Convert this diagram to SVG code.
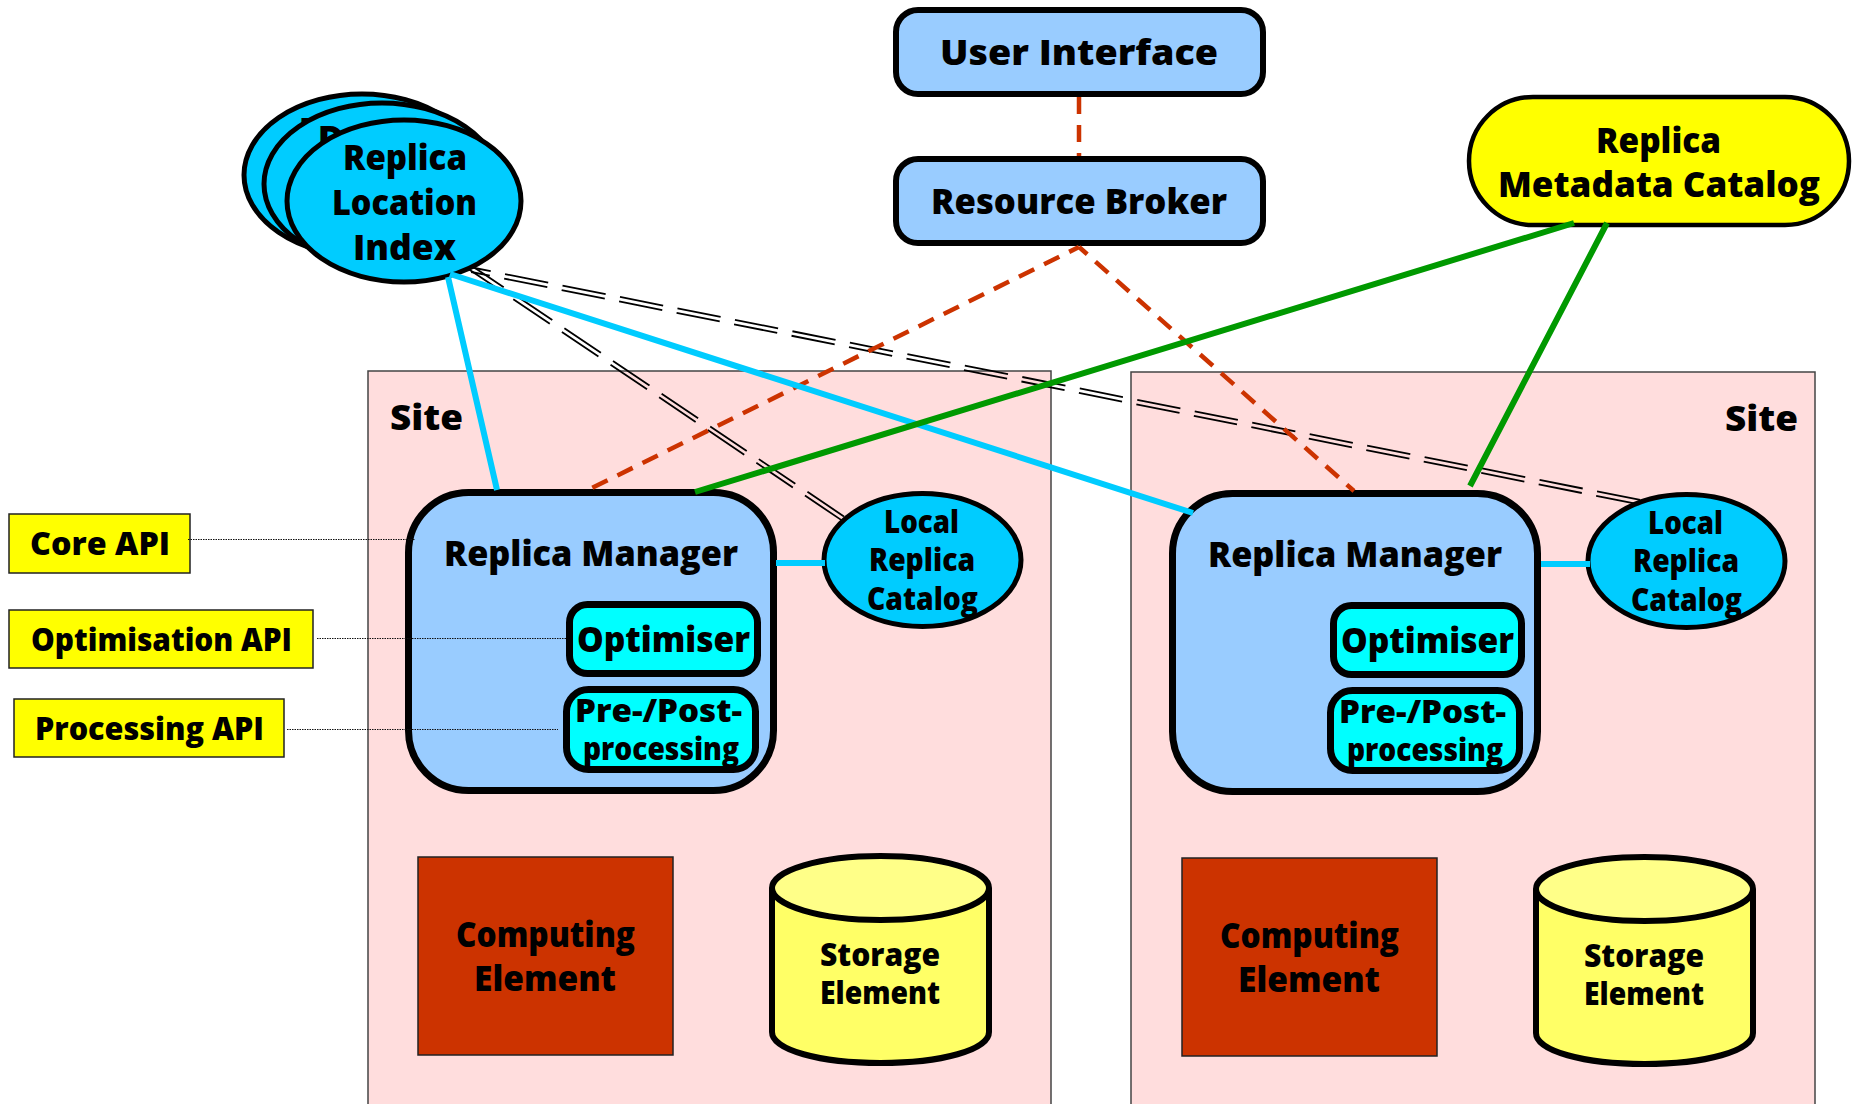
<svg xmlns="http://www.w3.org/2000/svg" width="1852" height="1104" viewBox="0 0 1852 1104">
<style>
text{font-family:"Open Sans","Noto Sans",sans-serif;font-weight:800;fill:#000;text-anchor:middle}
.t36{font-size:36px}.t32{font-size:32px}
.box{fill:#99ccff;stroke:#000;stroke-width:6}
.rm{fill:#99ccff;stroke:#000;stroke-width:7}
.inner{fill:#00ffff;stroke:#000;stroke-width:7}
.cat{fill:#00ccff;stroke:#000;stroke-width:5}
.api{fill:#ffff00;stroke:#222;stroke-width:1.5}
.site{fill:#ffdddd;stroke:#444;stroke-width:1.5}
.ce{fill:#cc3300;stroke:#222;stroke-width:1.5}
.se{fill:#ffff66;stroke:#000;stroke-width:6}
.top{fill:#ffff88}
.red{stroke:#cc3300;stroke-width:4.5;stroke-dasharray:17 11;fill:none}
.blue{stroke:#00ccff;stroke-width:6;fill:none}
.green{stroke:#009900;stroke-width:6;fill:none}
.dbl{stroke:#000;stroke-width:1.8;stroke-dasharray:44 14.6;fill:none}
.dot{stroke:#111;stroke-width:1;stroke-dasharray:1.5 1;fill:none}
</style>
<rect width="1852" height="1104" fill="#fff"/>
<g id="site-left"><rect class="site" x="368" y="371" width="683" height="745"/><text class="t36" x="426.500" y="430" textLength="73" lengthAdjust="spacingAndGlyphs">Site</text></g>
<g id="site-right"><rect class="site" x="1131" y="372" width="684" height="745"/><text class="t36" x="1761.500" y="431" textLength="73" lengthAdjust="spacingAndGlyphs">Site</text></g>
<g id="user-interface"><rect class="box" x="896" y="10" width="367" height="84" rx="22"/><text class="t36" x="1079" y="65" textLength="278" lengthAdjust="spacingAndGlyphs">User Interface</text></g>
<g id="resource-broker"><rect class="box" x="896" y="159" width="367" height="84" rx="22"/><text class="t36" x="1079" y="214" textLength="296" lengthAdjust="spacingAndGlyphs">Resource Broker</text></g>
<g id="replica-metadata-catalog"><rect x="1469" y="97" width="380" height="128" rx="64" fill="#ffff00" stroke="#000" stroke-width="4.5"/><text class="t36" x="1658.500" y="153" textLength="125" lengthAdjust="spacingAndGlyphs">Replica</text><text class="t36" x="1659" y="197" textLength="322" lengthAdjust="spacingAndGlyphs">Metadata Catalog</text></g>
<g id="replica-location-index">
<ellipse class="cat" cx="362" cy="175" rx="118" ry="81"/><text class="t36" x="312" y="143">D</text>
<ellipse class="cat" cx="382" cy="184" rx="118" ry="81"/><text class="t36" x="331" y="151">D</text>
<ellipse class="cat" cx="404" cy="201" rx="117" ry="81"/>
<text class="t36" x="405" y="170" textLength="124" lengthAdjust="spacingAndGlyphs">Replica</text><text class="t36" x="404.500" y="215" textLength="145" lengthAdjust="spacingAndGlyphs">Location</text><text class="t36" x="404.500" y="260" textLength="103" lengthAdjust="spacingAndGlyphs">Index</text></g>
<g id="api-core"><rect class="api" x="9" y="514" width="181" height="59"/><text class="t32" x="100" y="555" textLength="140" lengthAdjust="spacingAndGlyphs">Core API</text></g>
<g id="api-optimisation"><rect class="api" x="9" y="610" width="304" height="58"/><text class="t32" x="161.500" y="651" textLength="261" lengthAdjust="spacingAndGlyphs">Optimisation API</text></g>
<g id="api-processing"><rect class="api" x="14" y="699" width="270" height="58"/><text class="t32" x="149.500" y="740" textLength="229" lengthAdjust="spacingAndGlyphs">Processing API</text></g>
<g id="replica-manager-left"><rect class="rm" x="408.500" y="492.500" width="365" height="298" rx="60"/><text class="t36" x="591" y="566" textLength="294" lengthAdjust="spacingAndGlyphs">Replica Manager</text></g>
<g id="optimiser-left"><rect class="inner" x="569.500" y="604.500" width="188" height="69" rx="18"/><text class="t36" x="663.500" y="652" textLength="173" lengthAdjust="spacingAndGlyphs">Optimiser</text></g>
<g id="processing-left"><rect class="inner" x="566.500" y="689.500" width="189" height="80" rx="22"/><text class="t32" x="658.500" y="722" textLength="167" lengthAdjust="spacingAndGlyphs">Pre-/Post-</text><text class="t32" x="661" y="760" textLength="156" lengthAdjust="spacingAndGlyphs">processing</text></g>
<g id="local-catalog-left"><ellipse class="cat" cx="922.500" cy="560" rx="98.500" ry="66.500"/><text class="t32" x="921.500" y="533" textLength="75" lengthAdjust="spacingAndGlyphs">Local</text><text class="t32" x="922" y="571" textLength="106" lengthAdjust="spacingAndGlyphs">Replica</text><text class="t32" x="922.500" y="610" textLength="111" lengthAdjust="spacingAndGlyphs">Catalog</text></g>
<g id="computing-left"><rect class="ce" x="418" y="857" width="255" height="198"/><text class="t36" x="545.500" y="947" textLength="179" lengthAdjust="spacingAndGlyphs">Computing</text><text class="t36" x="545" y="991" textLength="142" lengthAdjust="spacingAndGlyphs">Element</text></g>
<g id="storage-left"><path class="se" d="M772 888V1032C772 1050 820 1063 880.500 1063S989 1050 989 1032V888"/><ellipse class="se top" cx="880.500" cy="888" rx="108.500" ry="32"/><text class="t32" x="880" y="966" textLength="120" lengthAdjust="spacingAndGlyphs">Storage</text><text class="t32" x="880" y="1004" textLength="120" lengthAdjust="spacingAndGlyphs">Element</text></g>
<g id="replica-manager-right"><rect class="rm" x="1172.500" y="493.500" width="365" height="298" rx="60"/><text class="t36" x="1355" y="567" textLength="294" lengthAdjust="spacingAndGlyphs">Replica Manager</text></g>
<g id="optimiser-right"><rect class="inner" x="1333.500" y="605.500" width="188" height="69" rx="18"/><text class="t36" x="1427.500" y="653" textLength="173" lengthAdjust="spacingAndGlyphs">Optimiser</text></g>
<g id="processing-right"><rect class="inner" x="1330.500" y="690.500" width="189" height="80" rx="22"/><text class="t32" x="1422.500" y="723" textLength="167" lengthAdjust="spacingAndGlyphs">Pre-/Post-</text><text class="t32" x="1425" y="761" textLength="156" lengthAdjust="spacingAndGlyphs">processing</text></g>
<g id="local-catalog-right"><ellipse class="cat" cx="1686.500" cy="561" rx="98.500" ry="66.500"/><text class="t32" x="1685.500" y="534" textLength="75" lengthAdjust="spacingAndGlyphs">Local</text><text class="t32" x="1686" y="572" textLength="106" lengthAdjust="spacingAndGlyphs">Replica</text><text class="t32" x="1686.500" y="611" textLength="111" lengthAdjust="spacingAndGlyphs">Catalog</text></g>
<g id="computing-right"><rect class="ce" x="1182" y="858" width="255" height="198"/><text class="t36" x="1309.500" y="948" textLength="179" lengthAdjust="spacingAndGlyphs">Computing</text><text class="t36" x="1309" y="992" textLength="142" lengthAdjust="spacingAndGlyphs">Element</text></g>
<g id="storage-right"><path class="se" d="M1536 889V1033C1536 1051 1584 1064 1644.500 1064S1753 1051 1753 1033V889"/><ellipse class="se top" cx="1644.500" cy="889" rx="108.500" ry="32"/><text class="t32" x="1644" y="967" textLength="120" lengthAdjust="spacingAndGlyphs">Storage</text><text class="t32" x="1644" y="1005" textLength="120" lengthAdjust="spacingAndGlyphs">Element</text></g>
<g id="connectors">
<path class="dbl" stroke-dashoffset="5.800" d="M472 266L846 517.800M469.500 269.700L843.500 521.500"/>
<path class="dbl" stroke-dashoffset="24.900" d="M472 267.500L1642 500.300M471.100 272L1641.100 504.800"/>
<path class="red" d="M1079 97V156"/>
<path class="red" stroke-dashoffset="6" d="M1079 247L590 489M1079 247L1354 491"/>
<path class="blue" d="M448 277L497 490M450 274L1193 513M776 563H825M1541 564H1590"/>
<path class="green" d="M1574 223L695 492M1607 223L1470 486"/>
<path class="dot" d="M188 539.500H415M317 638.500H566M287 729.500H558"/>
</g>
</svg>
